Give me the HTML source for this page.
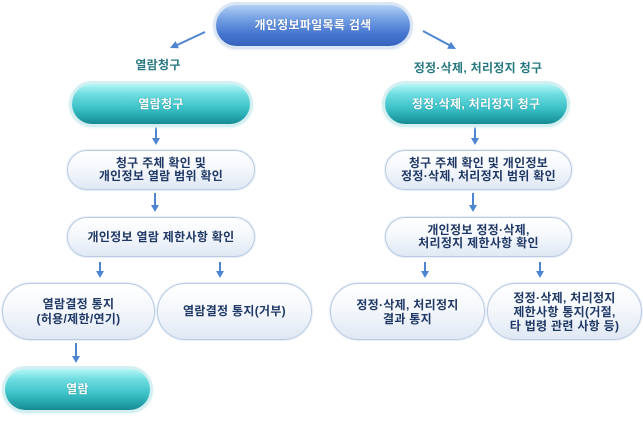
<!DOCTYPE html>
<html><head><meta charset="utf-8">
<style>
html,body{margin:0;padding:0;background:#fff;}
body{width:643px;height:421px;position:relative;overflow:hidden;font-family:"Liberation Sans","Noto Sans CJK KR",sans-serif;font-weight:bold;}
.n{position:absolute;display:flex;align-items:center;justify-content:center;text-align:center;box-sizing:border-box;font-size:12px;line-height:13px;letter-spacing:0.3px;}
.blue{border-radius:22px;color:#fff;background:linear-gradient(#b3cff5 0%,#7aa5e6 30%,#4676d0 70%,#3763bd 100%);box-shadow:0 0 0 3px #dbe6f4,0 1px 2px 3px #e8eef7;text-shadow:0 0 1px #2a4f9a;}
.teal{border-radius:21px;color:#fff;background:linear-gradient(#b4f6f6 0%,#6fdde0 25%,#3cc2c8 60%,#1e9aa3 90%,#178891 100%);box-shadow:0 0 0 3px #d3eff1,0 1px 2px 3px #e4f5f6;text-shadow:0 0 1px #137880;}
.lt{border-radius:22px;color:#1f3866;border:1px solid #b9cbe3;background:linear-gradient(#ffffff 0%,#f5f8fc 45%,#e0e8f4 100%);box-shadow:0 0 1px 1px #e6edf6;}
.big{border-radius:29px;}
.lbl{position:absolute;color:#277880;font-size:12px;line-height:14px;text-align:center;white-space:nowrap;letter-spacing:0.3px;}
svg{position:absolute;left:0;top:0;}
</style></head><body>
<svg width="643" height="421">
<g stroke="#4e85d1" stroke-width="2" fill="none">
<line x1="205" y1="32" x2="175" y2="46"/>
<line x1="423" y1="31" x2="451" y2="46"/>
<line x1="156" y1="127" x2="156" y2="140"/>
<line x1="475" y1="127" x2="475" y2="140"/>
<line x1="155" y1="193" x2="155" y2="207"/>
<line x1="473" y1="193" x2="473" y2="207"/>
<line x1="100" y1="262" x2="100" y2="273"/>
<line x1="220" y1="262" x2="220" y2="273"/>
<line x1="425" y1="262" x2="425" y2="273"/>
<line x1="540" y1="262" x2="540" y2="273"/>
<line x1="76" y1="343" x2="76" y2="358"/>
</g>
<g fill="#4e85d1">
<polygon points="170,48 178.9,48.3 175.6,41.1"/>
<polygon points="456,49 447.1,48.7 450.9,41.7"/>
<polygon points="156,145 152,138 160,138"/>
<polygon points="475,145 471,138 479,138"/>
<polygon points="155,212 151,205 159,205"/>
<polygon points="473,212 469,205 477,205"/>
<polygon points="100,278 96,271 104,271"/>
<polygon points="220,278 216,271 224,271"/>
<polygon points="425,278 421,271 429,271"/>
<polygon points="540,278 536,271 544,271"/>
<polygon points="76,363 72,356 80,356"/>
</g>
</svg>

<div class="n blue" style="left:216px;top:5px;width:194px;height:41px;">개인정보파일목록 검색</div>

<div class="lbl" style="left:108px;top:58px;width:100px;">열람청구</div>
<div class="lbl" style="left:398px;top:61px;width:160px;">정정·삭제, 처리정지 청구</div>

<div class="n teal" style="left:72px;top:84px;width:178px;height:40px;">열람청구</div>
<div class="n teal" style="left:385px;top:84px;width:182px;height:40px;">정정·삭제, 처리정지 청구</div>

<div class="n lt" style="left:67px;top:150px;width:188px;height:40px;">청구 주체 확인 및<br>개인정보 열람 범위 확인</div>
<div class="n lt" style="left:385px;top:150px;width:187px;height:40px;">청구 주체 확인 및 개인정보<br>정정·삭제, 처리정지 범위 확인</div>

<div class="n lt" style="left:67px;top:217px;width:188px;height:40px;">개인정보 열람 제한사항 확인</div>
<div class="n lt" style="left:385px;top:217px;width:187px;height:40px;">개인정보 정정·삭제,<br>처리정지 제한사항 확인</div>

<div class="n lt big" style="left:2px;top:283px;width:153px;height:57px;line-height:15px;">열람결정 통지<br>(허용/제한/연기)</div>
<div class="n lt big" style="left:157px;top:283px;width:155px;height:57px;">열람결정 통지(거부)</div>
<div class="n lt big" style="left:330px;top:283px;width:155px;height:57px;line-height:14px;">정정·삭제, 처리정지<br>결과 통지</div>
<div class="n lt big" style="left:487px;top:283px;width:155px;height:57px;line-height:14px;">정정·삭제, 처리정지<br>제한사항 통지(거절,<br>타 법령 관련 사항 등)</div>

<div class="n teal" style="left:5px;top:369px;width:145px;height:41px;">열람</div>
</body></html>
